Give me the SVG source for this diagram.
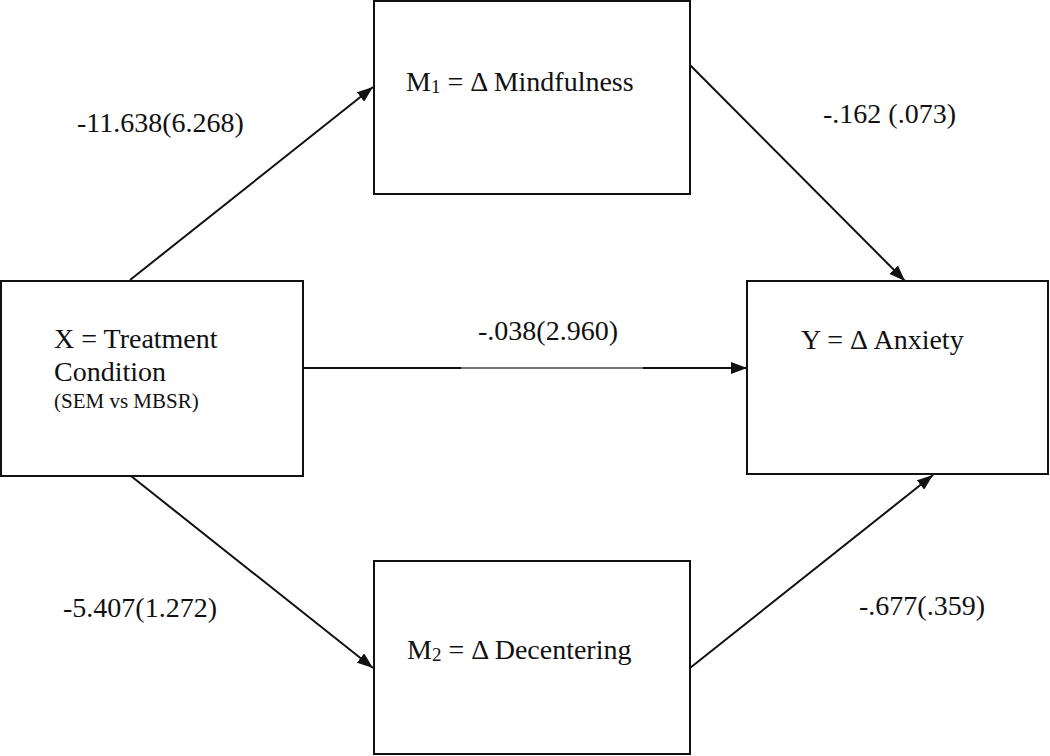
<svg xmlns="http://www.w3.org/2000/svg" width="1050" height="756" viewBox="0 0 1050 756">
<style>
.box{fill:#fff;stroke:#111;stroke-width:2}
.t{font-family:"Liberation Serif","Times New Roman",serif;font-size:28px;fill:#111}
.s{font-size:21px}
.sub{font-size:19px}
.c{stroke:#111;stroke-width:2;fill:none}
</style>
<defs>
<marker id="ah" viewBox="0 0 16 12" refX="16" refY="6" markerWidth="16" markerHeight="12" markerUnits="userSpaceOnUse" orient="auto">
<path d="M0,0 L16,6 L0,12 z" fill="#111"/>
</marker>
</defs>
<rect width="1050" height="756" fill="#fff"/>
<g id="connectors">
<line class="c" x1="130" y1="280" x2="373" y2="87" marker-end="url(#ah)"/>
<line class="c" x1="690" y1="65" x2="905" y2="281" marker-end="url(#ah)"/>
<line class="c" x1="131" y1="476" x2="373" y2="668" marker-end="url(#ah)"/>
<line class="c" x1="690" y1="668" x2="933" y2="475" marker-end="url(#ah)"/>
<line class="c" x1="303" y1="368" x2="461" y2="368"/>
<line x1="461" y1="368" x2="643" y2="368" stroke="#444" stroke-width="1.5"/>
<line class="c" x1="643" y1="368" x2="747" y2="368" marker-end="url(#ah)"/>
<text class="t" x="77" y="132">-11.638(6.268)</text>
<text class="t" x="823" y="123">-.162 (.073)</text>
<text class="t" x="478" y="340">-.038(2.960)</text>
<text class="t" x="63" y="617">-5.407(1.272)</text>
<text class="t" x="859" y="615">-.677(.359)</text>
</g>
<g id="node-m1">
<rect class="box" x="374" y="1" width="316" height="193"/>
<text class="t" x="406" y="91">M<tspan class="sub" dy="2">1</tspan><tspan dy="-2"> = Δ Mindfulness</tspan></text>
</g>
<g id="node-x">
<rect class="box" x="1" y="281" width="302" height="195"/>
<text class="t" x="54" y="348">X = Treatment</text>
<text class="t" x="54" y="381">Condition</text>
<text class="t s" x="54" y="408">(SEM vs MBSR)</text>
</g>
<g id="node-y">
<rect class="box" x="747" y="281" width="301" height="193"/>
<text class="t" x="801" y="349">Y = Δ Anxiety</text>
</g>
<g id="node-m2">
<rect class="box" x="374" y="561" width="316" height="193"/>
<text class="t" x="407" y="659">M<tspan class="sub" dy="2">2</tspan><tspan dy="-2"> = Δ Decentering</tspan></text>
</g>
</svg>
